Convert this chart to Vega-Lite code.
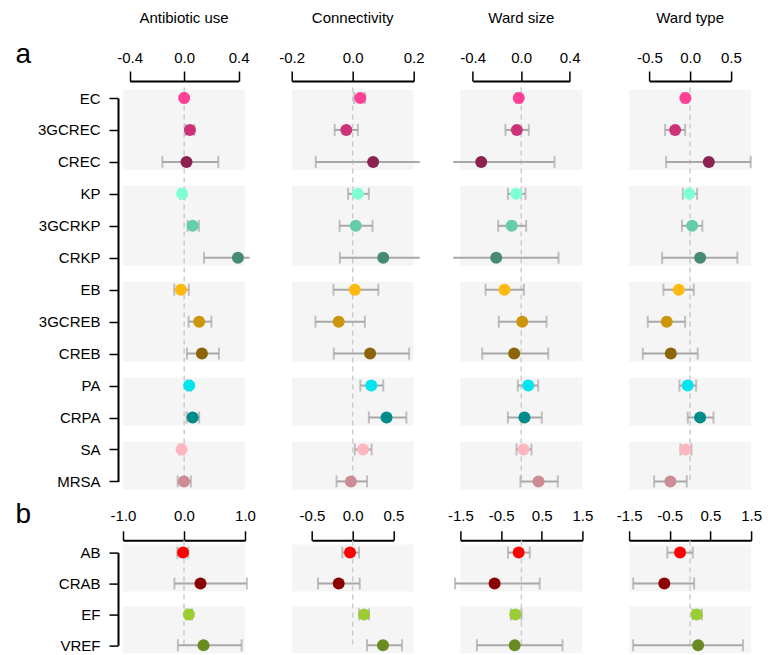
{
"$schema":"https://vega.github.io/schema/vega-lite/v6.json",
"autosize":{"type":"pad"},
"padding":{"left":15,"top":11,"right":5,"bottom":0},
"config":{"view":{"stroke":null},"font":"Liberation Sans",
"axis":{"domainColor":"black","domainWidth":2,"tickColor":"black","tickWidth":1.5,"labelColor":"black","labelFontSize":15,"labelFont":"Liberation Sans","grid":false,"labelFlush":false,"labelOverlap":false},
"title":{"fontSize":15,"fontWeight":"normal","font":"Liberation Sans","color":"black","offset":24}},
"datasets":{
"ga":[{"f":"EC","t":"CREC"},{"f":"KP","t":"CRKP"},{"f":"EB","t":"CREB"},{"f":"PA","t":"CRPA"},{"f":"SA","t":"MRSA"}],
"gb":[{"f":"AB","t":"CRAB"},{"f":"EF","t":"VREF"}],
"zero":[{"z":0}],
"d":[
{"s":"a","v":"AU","o":"EC","e":0.0,"l":-0.012,"h":0.01},
{"s":"a","v":"AU","o":"3GCREC","e":0.042,"l":0.01,"h":0.075},
{"s":"a","v":"AU","o":"CREC","e":0.017,"l":-0.16,"h":0.25},
{"s":"a","v":"AU","o":"KP","e":-0.015,"l":-0.03,"h":0.0},
{"s":"a","v":"AU","o":"3GCRKP","e":0.062,"l":0.025,"h":0.108},
{"s":"a","v":"AU","o":"CRKP","e":0.394,"l":0.145,"h":0.48},
{"s":"a","v":"AU","o":"EB","e":-0.024,"l":-0.073,"h":0.034},
{"s":"a","v":"AU","o":"3GCREB","e":0.11,"l":0.032,"h":0.2},
{"s":"a","v":"AU","o":"CREB","e":0.13,"l":0.02,"h":0.255},
{"s":"a","v":"AU","o":"PA","e":0.037,"l":0.02,"h":0.05},
{"s":"a","v":"AU","o":"CRPA","e":0.062,"l":0.018,"h":0.11},
{"s":"a","v":"AU","o":"SA","e":-0.019,"l":-0.035,"h":-0.005},
{"s":"a","v":"AU","o":"MRSA","e":-0.002,"l":-0.048,"h":0.049},
{"s":"a","v":"CN","o":"EC","e":0.025,"l":0.005,"h":0.04},
{"s":"a","v":"CN","o":"3GCREC","e":-0.021,"l":-0.059,"h":0.017},
{"s":"a","v":"CN","o":"CREC","e":0.067,"l":-0.121,"h":0.22},
{"s":"a","v":"CN","o":"KP","e":0.017,"l":-0.015,"h":0.053},
{"s":"a","v":"CN","o":"3GCRKP","e":0.01,"l":-0.043,"h":0.065},
{"s":"a","v":"CN","o":"CRKP","e":0.1,"l":-0.042,"h":0.22},
{"s":"a","v":"CN","o":"EB","e":0.007,"l":-0.063,"h":0.084},
{"s":"a","v":"CN","o":"3GCREB","e":-0.046,"l":-0.122,"h":0.04},
{"s":"a","v":"CN","o":"CREB","e":0.057,"l":-0.062,"h":0.185},
{"s":"a","v":"CN","o":"PA","e":0.061,"l":0.025,"h":0.1},
{"s":"a","v":"CN","o":"CRPA","e":0.111,"l":0.053,"h":0.176},
{"s":"a","v":"CN","o":"SA","e":0.034,"l":0.007,"h":0.062},
{"s":"a","v":"CN","o":"MRSA","e":-0.006,"l":-0.053,"h":0.047},
{"s":"a","v":"WS","o":"EC","e":-0.02,"l":-0.04,"h":0.0},
{"s":"a","v":"WS","o":"3GCREC","e":-0.036,"l":-0.13,"h":0.063},
{"s":"a","v":"WS","o":"CREC","e":-0.33,"l":-0.56,"h":0.275},
{"s":"a","v":"WS","o":"KP","e":-0.041,"l":-0.11,"h":0.035},
{"s":"a","v":"WS","o":"3GCRKP","e":-0.078,"l":-0.19,"h":0.041},
{"s":"a","v":"WS","o":"CRKP","e":-0.206,"l":-0.56,"h":0.308},
{"s":"a","v":"WS","o":"EB","e":-0.138,"l":-0.294,"h":0.022},
{"s":"a","v":"WS","o":"3GCREB","e":0.008,"l":-0.185,"h":0.209},
{"s":"a","v":"WS","o":"CREB","e":-0.058,"l":-0.322,"h":0.223},
{"s":"a","v":"WS","o":"PA","e":0.058,"l":-0.028,"h":0.14},
{"s":"a","v":"WS","o":"CRPA","e":0.027,"l":-0.11,"h":0.17},
{"s":"a","v":"WS","o":"SA","e":0.019,"l":-0.039,"h":0.085},
{"s":"a","v":"WS","o":"MRSA","e":0.143,"l":-0.006,"h":0.302},
{"s":"a","v":"WT","o":"EC","e":-0.058,"l":-0.09,"h":-0.03},
{"s":"a","v":"WT","o":"3GCREC","e":-0.184,"l":-0.307,"h":-0.061},
{"s":"a","v":"WT","o":"CREC","e":0.23,"l":-0.295,"h":0.745},
{"s":"a","v":"WT","o":"KP","e":-0.012,"l":-0.09,"h":0.086},
{"s":"a","v":"WT","o":"3GCRKP","e":0.025,"l":-0.1,"h":0.151},
{"s":"a","v":"WT","o":"CRKP","e":0.123,"l":-0.344,"h":0.581},
{"s":"a","v":"WT","o":"EB","e":-0.139,"l":-0.328,"h":0.045},
{"s":"a","v":"WT","o":"3GCREB","e":-0.287,"l":-0.52,"h":-0.061},
{"s":"a","v":"WT","o":"CREB","e":-0.237,"l":-0.581,"h":0.094},
{"s":"a","v":"WT","o":"PA","e":-0.029,"l":-0.131,"h":0.074},
{"s":"a","v":"WT","o":"CRPA","e":0.123,"l":-0.029,"h":0.287},
{"s":"a","v":"WT","o":"SA","e":-0.057,"l":-0.119,"h":0.016},
{"s":"a","v":"WT","o":"MRSA","e":-0.242,"l":-0.442,"h":-0.041},
{"s":"b","v":"AU","o":"AB","e":-0.016,"l":-0.11,"h":0.07},
{"s":"b","v":"AU","o":"CRAB","e":0.27,"l":-0.157,"h":1.03},
{"s":"b","v":"AU","o":"EF","e":0.08,"l":0.03,"h":0.13},
{"s":"b","v":"AU","o":"VREF","e":0.32,"l":-0.1,"h":0.945},
{"s":"b","v":"CN","o":"AB","e":-0.033,"l":-0.127,"h":0.078},
{"s":"b","v":"CN","o":"CRAB","e":-0.172,"l":-0.426,"h":0.086},
{"s":"b","v":"CN","o":"EF","e":0.139,"l":0.078,"h":0.2},
{"s":"b","v":"CN","o":"VREF","e":0.372,"l":0.176,"h":0.606},
{"s":"b","v":"WS","o":"AB","e":-0.067,"l":-0.33,"h":0.205},
{"s":"b","v":"WS","o":"CRAB","e":-0.659,"l":-1.63,"h":0.45},
{"s":"b","v":"WS","o":"EF","e":-0.148,"l":-0.26,"h":0.0},
{"s":"b","v":"WS","o":"VREF","e":-0.165,"l":-1.095,"h":1.01},
{"s":"b","v":"WT","o":"AB","e":-0.247,"l":-0.56,"h":0.066},
{"s":"b","v":"WT","o":"CRAB","e":-0.634,"l":-1.4,"h":0.099},
{"s":"b","v":"WT","o":"EF","e":0.164,"l":0.058,"h":0.288},
{"s":"b","v":"WT","o":"VREF","e":0.197,"l":-1.4,"h":1.3}
]},
"bounds":"flush","columns":4,"spacing":{"row":70.6,"column":46.7},
"resolve":{"scale":{"x":"independent","y":"independent"}},
"concat":[
{"width":122,"height":383.4,"title":{"text":"Antibiotic use","offset":14},
"layer":[
{"data":{"name":"ga"},"mark":{"type":"rect","color":"#F5F5F5","yOffset":-8,"y2Offset":8},
"encoding":{"y":{"field":"f","type":"nominal","scale":{"type":"point","padding":0,"domain":["EC","3GCREC","CREC","KP","3GCRKP","CRKP","EB","3GCREB","CREB","PA","CRPA","SA","MRSA"]},
"axis":{"title":"a","titleAngle":0,"titleX":-103,"titleY":-36,"titleAlign":"left","titleBaseline":"alphabetic","titleFontSize":28,"titleFontWeight":"normal","titleFont":"Liberation Sans","titleColor":"black","offset":5,"tickSize":9,"labelPadding":9}},"y2":{"field":"t"}}},
{"data":{"name":"zero"},"mark":{"type":"rule","color":"#CCCCCC","strokeDash":[5,4],"strokeWidth":1.5,"yOffset":-10.5,"y2Offset":15.5},
"encoding":{"x":{"field":"z","type":"quantitative","scale":{"domain":[-0.4,0.4],"range":[6.7,115.7],"nice":false,"zero":false},
"axis":{"orient":"top","title":null,"values":[-0.4,-0.2,0,0.2,0.4],"labelExpr":"datum.value==-0.4?'-0.4':datum.value==0?'0.0':datum.value==0.4?'0.4':''","offset":17,"tickSize":10,"labelPadding":6}}}},
{"data":{"name":"d"},"transform":[{"filter":"datum.s=='a' && datum.v=='AU'"}],"mark":{"type":"rule","color":"#A8A8A8","strokeWidth":2},
"encoding":{"x":{"field":"l","type":"quantitative","title":null},"x2":{"field":"h"},"y":{"field":"o","type":"nominal","axis":{"title":"a","titleAngle":0,"titleX":-103,"titleY":-36,"titleAlign":"left","titleBaseline":"alphabetic","titleFontSize":28,"titleFontWeight":"normal","titleFont":"Liberation Sans","titleColor":"black","offset":5,"tickSize":9,"labelPadding":9}}}},
{"data":{"name":"d"},"transform":[{"filter":"datum.s=='a' && datum.v=='AU'"},{"fold":["l","h"],"as":["k","val"]},{"filter":"datum.val < 0.46"}],"mark":{"type":"tick","color":"#A8A8A8","size":12,"thickness":2},
"encoding":{"x":{"field":"val","type":"quantitative","title":null},"y":{"field":"o","type":"nominal","axis":{"title":"a","titleAngle":0,"titleX":-103,"titleY":-36,"titleAlign":"left","titleBaseline":"alphabetic","titleFontSize":28,"titleFontWeight":"normal","titleFont":"Liberation Sans","titleColor":"black","offset":5,"tickSize":9,"labelPadding":9}}}},
{"data":{"name":"d"},"transform":[{"filter":"datum.s=='a' && datum.v=='AU'"}],"mark":{"type":"circle","size":144,"opacity":1},
"encoding":{"x":{"field":"e","type":"quantitative","title":null},"y":{"field":"o","type":"nominal","axis":{"title":"a","titleAngle":0,"titleX":-103,"titleY":-36,"titleAlign":"left","titleBaseline":"alphabetic","titleFontSize":28,"titleFontWeight":"normal","titleFont":"Liberation Sans","titleColor":"black","offset":5,"tickSize":9,"labelPadding":9}},
"color":{"field":"o","type":"nominal","legend":null,"scale":{"domain":["EC","3GCREC","CREC","KP","3GCRKP","CRKP","EB","3GCREB","CREB","PA","CRPA","SA","MRSA","AB","CRAB","EF","VREF"],"range":["#FF3E96","#CD3278","#8B2252","#7FFFD4","#66CDAA","#458B74","#FFB90F","#CD950C","#8B6508","#00E5EE","#008B8B","#FFB6C1","#CD8C95","#FF0000","#8B0000","#9ACD32","#698B22"]}}}}
]},
{"width":122,"height":383.4,"title":{"text":"Connectivity"},
"layer":[
{"data":{"name":"ga"},"mark":{"type":"rect","color":"#F5F5F5","yOffset":-8,"y2Offset":8},
"encoding":{"y":{"field":"f","type":"nominal","scale":{"type":"point","padding":0,"domain":["EC","3GCREC","CREC","KP","3GCRKP","CRKP","EB","3GCREB","CREB","PA","CRPA","SA","MRSA"]},"axis":null},"y2":{"field":"t"}}},
{"data":{"name":"zero"},"mark":{"type":"rule","color":"#CCCCCC","strokeDash":[5,4],"strokeWidth":1.5,"yOffset":-10.5,"y2Offset":15.5},
"encoding":{"x":{"field":"z","type":"quantitative","scale":{"domain":[-0.2,0.2],"range":[0,122],"nice":false,"zero":false},
"axis":{"orient":"top","title":null,"values":[-0.2,-0.1,0,0.1,0.2],"labelExpr":"datum.value==-0.2?'-0.2':datum.value==0?'0.0':datum.value==0.2?'0.2':''","offset":17,"tickSize":10,"labelPadding":6}}}},
{"data":{"name":"d"},"transform":[{"filter":"datum.s=='a' && datum.v=='CN'"}],"mark":{"type":"rule","color":"#A8A8A8","strokeWidth":2},
"encoding":{"x":{"field":"l","type":"quantitative","title":null},"x2":{"field":"h"},"y":{"field":"o","type":"nominal","title":null,"axis":null}}},
{"data":{"name":"d"},"transform":[{"filter":"datum.s=='a' && datum.v=='CN'"},{"fold":["l","h"],"as":["k","val"]},{"filter":"datum.val < 0.21"}],"mark":{"type":"tick","color":"#A8A8A8","size":12,"thickness":2},
"encoding":{"x":{"field":"val","type":"quantitative","title":null},"y":{"field":"o","type":"nominal","title":null,"axis":null}}},
{"data":{"name":"d"},"transform":[{"filter":"datum.s=='a' && datum.v=='CN'"}],"mark":{"type":"circle","size":144,"opacity":1},
"encoding":{"x":{"field":"e","type":"quantitative","title":null},"y":{"field":"o","type":"nominal","title":null,"axis":null},
"color":{"field":"o","type":"nominal","legend":null}}}
]},
{"width":122,"height":383.4,"title":{"text":"Ward size"},
"layer":[
{"data":{"name":"ga"},"mark":{"type":"rect","color":"#F5F5F5","yOffset":-8,"y2Offset":8},
"encoding":{"y":{"field":"f","type":"nominal","scale":{"type":"point","padding":0,"domain":["EC","3GCREC","CREC","KP","3GCRKP","CRKP","EB","3GCREB","CREB","PA","CRPA","SA","MRSA"]},"axis":null},"y2":{"field":"t"}}},
{"data":{"name":"zero"},"mark":{"type":"rule","color":"#CCCCCC","strokeDash":[5,4],"strokeWidth":1.5,"yOffset":-10.5,"y2Offset":15.5},
"encoding":{"x":{"field":"z","type":"quantitative","scale":{"domain":[-0.4,0.4],"range":[12.3,109.3],"nice":false,"zero":false},
"axis":{"orient":"top","title":null,"values":[-0.4,-0.2,0,0.2,0.4],"labelExpr":"datum.value==-0.4?'-0.4':datum.value==0?'0.0':datum.value==0.4?'0.4':''","offset":17,"tickSize":10,"labelPadding":6}}}},
{"data":{"name":"d"},"transform":[{"filter":"datum.s=='a' && datum.v=='WS'"}],"mark":{"type":"rule","color":"#A8A8A8","strokeWidth":2},
"encoding":{"x":{"field":"l","type":"quantitative","title":null},"x2":{"field":"h"},"y":{"field":"o","type":"nominal","title":null,"axis":null}}},
{"data":{"name":"d"},"transform":[{"filter":"datum.s=='a' && datum.v=='WS'"},{"fold":["l","h"],"as":["k","val"]},{"filter":"datum.val > -0.52"}],"mark":{"type":"tick","color":"#A8A8A8","size":12,"thickness":2},
"encoding":{"x":{"field":"val","type":"quantitative","title":null},"y":{"field":"o","type":"nominal","title":null,"axis":null}}},
{"data":{"name":"d"},"transform":[{"filter":"datum.s=='a' && datum.v=='WS'"}],"mark":{"type":"circle","size":144,"opacity":1},
"encoding":{"x":{"field":"e","type":"quantitative","title":null},"y":{"field":"o","type":"nominal","title":null,"axis":null},
"color":{"field":"o","type":"nominal","legend":null}}}
]},
{"width":122,"height":383.4,"title":{"text":"Ward type"},
"layer":[
{"data":{"name":"ga"},"mark":{"type":"rect","color":"#F5F5F5","yOffset":-8,"y2Offset":8},
"encoding":{"y":{"field":"f","type":"nominal","scale":{"type":"point","padding":0,"domain":["EC","3GCREC","CREC","KP","3GCRKP","CRKP","EB","3GCREB","CREB","PA","CRPA","SA","MRSA"]},"axis":null},"y2":{"field":"t"}}},
{"data":{"name":"zero"},"mark":{"type":"rule","color":"#CCCCCC","strokeDash":[5,4],"strokeWidth":1.5,"yOffset":-10.5,"y2Offset":15.5},
"encoding":{"x":{"field":"z","type":"quantitative","scale":{"domain":[-0.5,0.5],"range":[20.3,101.7],"nice":false,"zero":false},
"axis":{"orient":"top","title":null,"values":[-0.5,0,0.5],"labelExpr":"datum.value==-0.5?'-0.5':datum.value==0?'0.0':datum.value==0.5?'0.5':''","offset":17,"tickSize":10,"labelPadding":6}}}},
{"data":{"name":"d"},"transform":[{"filter":"datum.s=='a' && datum.v=='WT'"}],"mark":{"type":"rule","color":"#A8A8A8","strokeWidth":2},
"encoding":{"x":{"field":"l","type":"quantitative","title":null},"x2":{"field":"h"},"y":{"field":"o","type":"nominal","title":null,"axis":null}}},
{"data":{"name":"d"},"transform":[{"filter":"datum.s=='a' && datum.v=='WT'"},{"fold":["l","h"],"as":["k","val"]}],"mark":{"type":"tick","color":"#A8A8A8","size":12,"thickness":2},
"encoding":{"x":{"field":"val","type":"quantitative","title":null},"y":{"field":"o","type":"nominal","title":null,"axis":null}}},
{"data":{"name":"d"},"transform":[{"filter":"datum.s=='a' && datum.v=='WT'"}],"mark":{"type":"circle","size":144,"opacity":1},
"encoding":{"x":{"field":"e","type":"quantitative","title":null},"y":{"field":"o","type":"nominal","title":null,"axis":null},
"color":{"field":"o","type":"nominal","legend":null}}}
]},
{"width":122,"height":92.7,
"layer":[
{"data":{"name":"gb"},"mark":{"type":"rect","color":"#F5F5F5","yOffset":-8,"y2Offset":8},
"encoding":{"y":{"field":"f","type":"nominal","scale":{"type":"point","padding":0,"domain":["AB","CRAB","EF","VREF"]},
"axis":{"title":"b","titleAngle":0,"titleX":-103,"titleY":-30.6,"titleAlign":"left","titleBaseline":"alphabetic","titleFontSize":28,"titleFontWeight":"normal","titleFont":"Liberation Sans","titleColor":"black","offset":5,"tickSize":9,"labelPadding":9}},"y2":{"field":"t"}}},
{"data":{"name":"zero"},"mark":{"type":"rule","color":"#CCCCCC","strokeDash":[5,4],"strokeWidth":1.5,"yOffset":-12,"y2Offset":10},
"encoding":{"x":{"field":"z","type":"quantitative","scale":{"domain":[-1,1],"range":[0,122],"nice":false,"zero":false},
"axis":{"orient":"top","title":null,"values":[-1,-0.5,0,0.5,1],"labelExpr":"datum.value==-1?'-1.0':datum.value==0?'0.0':datum.value==1?'1.0':''","offset":12.3,"tickSize":9.5,"labelPadding":7.5}}}},
{"data":{"name":"d"},"transform":[{"filter":"datum.s=='b' && datum.v=='AU'"}],"mark":{"type":"rule","color":"#A8A8A8","strokeWidth":2},
"encoding":{"x":{"field":"l","type":"quantitative","title":null},"x2":{"field":"h"},"y":{"field":"o","type":"nominal","axis":{"title":"b","titleAngle":0,"titleX":-103,"titleY":-30.6,"titleAlign":"left","titleBaseline":"alphabetic","titleFontSize":28,"titleFontWeight":"normal","titleFont":"Liberation Sans","titleColor":"black","offset":5,"tickSize":9,"labelPadding":9}}}},
{"data":{"name":"d"},"transform":[{"filter":"datum.s=='b' && datum.v=='AU'"},{"fold":["l","h"],"as":["k","val"]}],"mark":{"type":"tick","color":"#A8A8A8","size":12,"thickness":2},
"encoding":{"x":{"field":"val","type":"quantitative","title":null},"y":{"field":"o","type":"nominal","axis":{"title":"b","titleAngle":0,"titleX":-103,"titleY":-30.6,"titleAlign":"left","titleBaseline":"alphabetic","titleFontSize":28,"titleFontWeight":"normal","titleFont":"Liberation Sans","titleColor":"black","offset":5,"tickSize":9,"labelPadding":9}}}},
{"data":{"name":"d"},"transform":[{"filter":"datum.s=='b' && datum.v=='AU'"}],"mark":{"type":"circle","size":144,"opacity":1},
"encoding":{"x":{"field":"e","type":"quantitative","title":null},"y":{"field":"o","type":"nominal","axis":{"title":"b","titleAngle":0,"titleX":-103,"titleY":-30.6,"titleAlign":"left","titleBaseline":"alphabetic","titleFontSize":28,"titleFontWeight":"normal","titleFont":"Liberation Sans","titleColor":"black","offset":5,"tickSize":9,"labelPadding":9}},
"color":{"field":"o","type":"nominal","legend":null}}}
]},
{"width":122,"height":92.7,
"layer":[
{"data":{"name":"gb"},"mark":{"type":"rect","color":"#F5F5F5","yOffset":-8,"y2Offset":8},
"encoding":{"y":{"field":"f","type":"nominal","scale":{"type":"point","padding":0,"domain":["AB","CRAB","EF","VREF"]},"axis":null},"y2":{"field":"t"}}},
{"data":{"name":"zero"},"mark":{"type":"rule","color":"#CCCCCC","strokeDash":[5,4],"strokeWidth":1.5,"yOffset":-12,"y2Offset":10},
"encoding":{"x":{"field":"z","type":"quantitative","scale":{"domain":[-0.5,0.5],"range":[20.3,101.7],"nice":false,"zero":false},
"axis":{"orient":"top","title":null,"values":[-0.5,0,0.5],"labelExpr":"datum.value==-0.5?'-0.5':datum.value==0?'0.0':datum.value==0.5?'0.5':''","offset":12.3,"tickSize":9.5,"labelPadding":7.5}}}},
{"data":{"name":"d"},"transform":[{"filter":"datum.s=='b' && datum.v=='CN'"}],"mark":{"type":"rule","color":"#A8A8A8","strokeWidth":2},
"encoding":{"x":{"field":"l","type":"quantitative","title":null},"x2":{"field":"h"},"y":{"field":"o","type":"nominal","title":null,"axis":null}}},
{"data":{"name":"d"},"transform":[{"filter":"datum.s=='b' && datum.v=='CN'"},{"fold":["l","h"],"as":["k","val"]}],"mark":{"type":"tick","color":"#A8A8A8","size":12,"thickness":2},
"encoding":{"x":{"field":"val","type":"quantitative","title":null},"y":{"field":"o","type":"nominal","title":null,"axis":null}}},
{"data":{"name":"d"},"transform":[{"filter":"datum.s=='b' && datum.v=='CN'"}],"mark":{"type":"circle","size":144,"opacity":1},
"encoding":{"x":{"field":"e","type":"quantitative","title":null},"y":{"field":"o","type":"nominal","title":null,"axis":null},
"color":{"field":"o","type":"nominal","legend":null}}}
]},
{"width":122,"height":92.7,
"layer":[
{"data":{"name":"gb"},"mark":{"type":"rect","color":"#F5F5F5","yOffset":-8,"y2Offset":8},
"encoding":{"y":{"field":"f","type":"nominal","scale":{"type":"point","padding":0,"domain":["AB","CRAB","EF","VREF"]},"axis":null},"y2":{"field":"t"}}},
{"data":{"name":"zero"},"mark":{"type":"rule","color":"#CCCCCC","strokeDash":[5,4],"strokeWidth":1.5,"yOffset":-12,"y2Offset":10},
"encoding":{"x":{"field":"z","type":"quantitative","scale":{"domain":[-1.5,1.5],"range":[0,122],"nice":false,"zero":false},
"axis":{"orient":"top","title":null,"values":[-1.5,-1,-0.5,0,0.5,1,1.5],"labelExpr":"datum.value==-1.5?'-1.5':datum.value==-0.5?'-0.5':datum.value==0.5?'0.5':datum.value==1.5?'1.5':''","offset":12.3,"tickSize":9.5,"labelPadding":7.5}}}},
{"data":{"name":"d"},"transform":[{"filter":"datum.s=='b' && datum.v=='WS'"}],"mark":{"type":"rule","color":"#A8A8A8","strokeWidth":2},
"encoding":{"x":{"field":"l","type":"quantitative","title":null},"x2":{"field":"h"},"y":{"field":"o","type":"nominal","title":null,"axis":null}}},
{"data":{"name":"d"},"transform":[{"filter":"datum.s=='b' && datum.v=='WS'"},{"fold":["l","h"],"as":["k","val"]}],"mark":{"type":"tick","color":"#A8A8A8","size":12,"thickness":2},
"encoding":{"x":{"field":"val","type":"quantitative","title":null},"y":{"field":"o","type":"nominal","title":null,"axis":null}}},
{"data":{"name":"d"},"transform":[{"filter":"datum.s=='b' && datum.v=='WS'"}],"mark":{"type":"circle","size":144,"opacity":1},
"encoding":{"x":{"field":"e","type":"quantitative","title":null},"y":{"field":"o","type":"nominal","title":null,"axis":null},
"color":{"field":"o","type":"nominal","legend":null}}}
]},
{"width":122,"height":92.7,
"layer":[
{"data":{"name":"gb"},"mark":{"type":"rect","color":"#F5F5F5","yOffset":-8,"y2Offset":8},
"encoding":{"y":{"field":"f","type":"nominal","scale":{"type":"point","padding":0,"domain":["AB","CRAB","EF","VREF"]},"axis":null},"y2":{"field":"t"}}},
{"data":{"name":"zero"},"mark":{"type":"rule","color":"#CCCCCC","strokeDash":[5,4],"strokeWidth":1.5,"yOffset":-12,"y2Offset":10},
"encoding":{"x":{"field":"z","type":"quantitative","scale":{"domain":[-1.5,1.5],"range":[0,122],"nice":false,"zero":false},
"axis":{"orient":"top","title":null,"values":[-1.5,-1,-0.5,0,0.5,1,1.5],"labelExpr":"datum.value==-1.5?'-1.5':datum.value==-0.5?'-0.5':datum.value==0.5?'0.5':datum.value==1.5?'1.5':''","offset":12.3,"tickSize":9.5,"labelPadding":7.5}}}},
{"data":{"name":"d"},"transform":[{"filter":"datum.s=='b' && datum.v=='WT'"}],"mark":{"type":"rule","color":"#A8A8A8","strokeWidth":2},
"encoding":{"x":{"field":"l","type":"quantitative","title":null},"x2":{"field":"h"},"y":{"field":"o","type":"nominal","title":null,"axis":null}}},
{"data":{"name":"d"},"transform":[{"filter":"datum.s=='b' && datum.v=='WT'"},{"fold":["l","h"],"as":["k","val"]}],"mark":{"type":"tick","color":"#A8A8A8","size":12,"thickness":2},
"encoding":{"x":{"field":"val","type":"quantitative","title":null},"y":{"field":"o","type":"nominal","title":null,"axis":null}}},
{"data":{"name":"d"},"transform":[{"filter":"datum.s=='b' && datum.v=='WT'"}],"mark":{"type":"circle","size":144,"opacity":1},
"encoding":{"x":{"field":"e","type":"quantitative","title":null},"y":{"field":"o","type":"nominal","title":null,"axis":null},
"color":{"field":"o","type":"nominal","legend":null}}}
]}
]
}
